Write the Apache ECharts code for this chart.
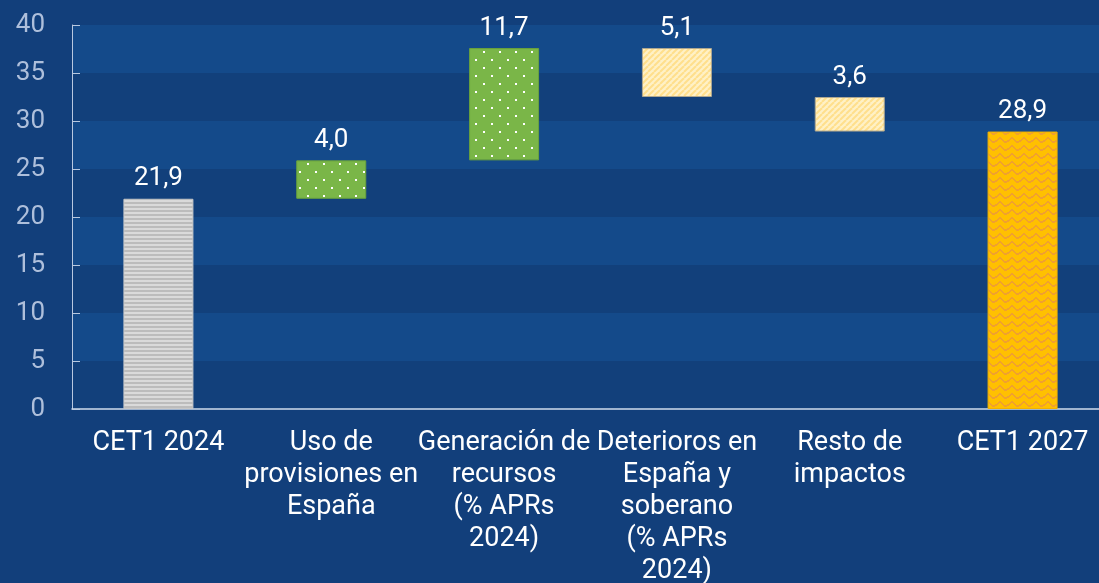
<!DOCTYPE html>
<html lang="es">
<head>
    <meta charset="UTF-8">
    <title>CET1 2024 - 2027</title>
    <script src="https://cdn.jsdelivr.net/npm/echarts@6/dist/echarts.min.js"></script>
    <style>
        html, body { margin: 0; padding: 0; background: #123f7b; }
        #chart { width: 1099px; height: 583px; }
    </style>
</head>
<body>
<div id="chart"></div>
<script>
    const categories = ['CET1 2024', 'Uso de\nprovisiones en\nEspaña', 'Generación de\nrecursos\n(% APRs\n2024)',
        'Deterioros en\nEspaña y\nsoberano\n(% APRs\n2024)', 'Resto de\nimpactos', 'CET1 2027'];
    // change of each step (negative = reduces capital)
    const deltas = [21.9, 4.0, 11.7, -5.1, -3.6, 28.9];
    const isTotal = [true, false, false, false, false, true];
    const yTicks = [0, 5, 10, 15, 20, 25, 30, 35, 40];

    function pattern(w, h, draw) {
        const c = document.createElement('canvas');
        c.width = w; c.height = h;
        draw(c.getContext('2d'));
        return {image: c, repeat: 'repeat'};
    }

    const grayStripes = pattern(4, 4, ctx => {
        ctx.fillStyle = '#dadada'; ctx.fillRect(0, 0, 4, 4);
        ctx.fillStyle = '#bcbcbc'; ctx.fillRect(0, 2, 4, 2);
    });
    const greenDots = pattern(16, 16, ctx => {
        ctx.fillStyle = '#7ab648'; ctx.fillRect(0, 0, 16, 16);
        ctx.fillStyle = '#ffffff';
        ctx.fillRect(3, 3, 2, 2);
        ctx.fillRect(11, 11, 2, 2);
    });
    const yellowHatch = pattern(6, 6, ctx => {
        ctx.fillStyle = '#fff1c6'; ctx.fillRect(0, 0, 6, 6);
        ctx.strokeStyle = '#ffdf8c'; ctx.lineWidth = 2;
        for (let k = -6; k <= 12; k += 6) {
            ctx.beginPath(); ctx.moveTo(k, 6); ctx.lineTo(k + 6, 0); ctx.stroke();
        }
    });
    const orangeWave = pattern(12, 8, ctx => {
        ctx.fillStyle = '#ffc000'; ctx.fillRect(0, 0, 12, 8);
        ctx.fillStyle = '#f0a030';
        const ys = [4, 3, 2, 1, 1, 2, 3, 4, 5, 5, 5, 4];
        ys.forEach((y, x) => ctx.fillRect(x, y, 1, 2));
    });
    const fills = [grayStripes, greenDots, greenDots, yellowHatch, yellowHatch, orangeWave];
    const borders = ['#c8c8c8', '#6aa23c', '#6aa23c', '#b0a890', '#b0a890', '#f2b200'];

    // build invisible base + visible step for the waterfall
    const base = [];
    const steps = [];
    let level = 0;
    deltas.forEach((d, i) => {
        if (isTotal[i]) {
            base.push(0);
            level = d;
        } else if (d >= 0) {
            base.push(+level.toFixed(1));
            level += d;
        } else {
            level += d;
            base.push(+level.toFixed(1));
        }
        steps.push({
            value: Math.abs(d),
            itemStyle: {color: fills[i], borderColor: borders[i], borderWidth: 1}
        });
    });

    const chart = echarts.init(document.getElementById('chart'));
    const txt = {fontFamily: 'Roboto', fontSize: 26};
    chart.setOption({
        backgroundColor: '#123f7b',
        animation: false,
        grid: {left: 72, top: 25, width: 1037, bottom: 174, containLabel: false, outerBoundsMode: 'none'},
        xAxis: {
            type: 'category',
            data: categories,
            axisLine: {lineStyle: {color: '#d0dcec', width: 1.5}},
            axisTick: {inside: true, length: 8, lineStyle: {color: '#d0dcec'}},
            axisLabel: {color: '#ffffff', margin: 18, lineHeight: 32, interval: 0, fontFamily: 'Roboto', fontSize: 27}
        },
        yAxis: {
            type: 'value',
            min: yTicks[0],
            max: yTicks[yTicks.length - 1],
            interval: 5,
            axisLine: {show: true, lineStyle: {color: '#b8c8e0'}},
            axisTick: {show: true, inside: true, length: 8, lineStyle: {color: '#b8c8e0'}},
            axisLabel: Object.assign({color: '#aebfdb', margin: 27}, txt),
            splitLine: {show: false},
            splitArea: {show: true, areaStyle: {color: ['#12407b', '#144a8a']}}
        },
        series: [{
            type: 'bar',
            stack: 'w',
            data: base,
            barWidth: 70,
            itemStyle: {color: 'transparent'},
            silent: true
        }, {
            type: 'bar',
            stack: 'w',
            data: steps,
            barWidth: 70,
            label: Object.assign({
                show: true,
                position: 'top',
                distance: 7,
                color: '#ffffff',
                formatter: p => p.value.toFixed(1).replace('.', ',')
            }, txt)
        }]
    });
</script>
</body>
</html>
